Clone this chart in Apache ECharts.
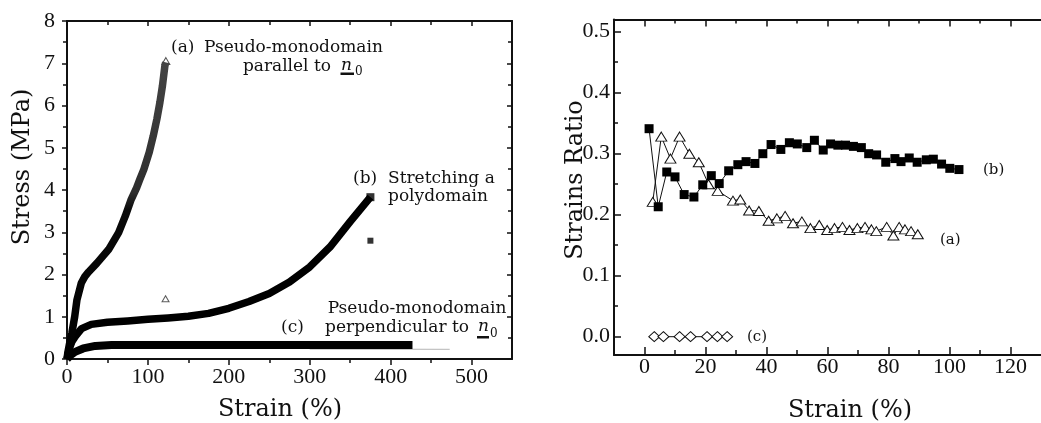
<!DOCTYPE html>
<html><head><meta charset="utf-8">
<script src="https://cdn.jsdelivr.net/npm/echarts@6/dist/echarts.min.js"></script>
<style>html,body{margin:0;padding:0;background:#fff}#c{width:1041px;height:423px}</style>
</head><body><div id="c"></div>
<script>
// ---------- Left panel: stress vs strain ----------
const strainA = [0, 1, 3, 6, 9.5, 12.3, 17.7, 22, 26.7, 37, 51.4, 63.8, 72, 79.4, 86, 90, 95, 101.6, 106.6, 111.1, 114.8, 118, 121, 122];
const stressA = [0, 0.15, 0.35, 0.61, 1.0, 1.4, 1.8, 1.95, 2.06, 2.27, 2.59, 2.99, 3.38, 3.78, 4.05, 4.25, 4.49, 4.89, 5.28, 5.68, 6.07, 6.47, 6.94, 7.02];
const strainB = [0, 3, 6, 10, 18, 30, 50, 75, 100, 125, 150, 175, 200, 225, 250, 275, 300, 325, 350, 375];
const stressB = [0, 0.25, 0.41, 0.53, 0.72, 0.82, 0.87, 0.90, 0.94, 0.97, 1.01, 1.08, 1.20, 1.36, 1.55, 1.82, 2.18, 2.65, 3.25, 3.83];
const strainC = [0, 5, 10, 20, 35, 55, 100, 200, 300, 427];
const stressC = [0, 0.10, 0.17, 0.25, 0.31, 0.33, 0.33, 0.33, 0.33, 0.33];
const strainCfaint = [300, 473];
const stressCfaint = [0.235, 0.23];
const outlierTri = [[121.8, 1.425]];
const topTri = [[122.2, 7.05]];
const outlierSq = [[375, 2.80]];
const endSq = [[375, 3.83]];
const leftXTicks = [0, 100, 200, 300, 400, 500];
const leftXMinor = [50, 150, 250, 350, 450];
const leftYTicks = [0, 1, 2, 3, 4, 5, 6, 7, 8];
const leftYMinor = [0.5, 1.5, 2.5, 3.5, 4.5, 5.5, 6.5, 7.5];

// ---------- Right panel: strains ratio vs strain ----------
const strainRb = [1.5, 4.5, 7.3, 10.0, 13.0, 16.2, 19.1, 21.9, 24.5, 27.6, 30.6, 33.3, 36.2, 38.8, 41.5, 44.7, 47.5, 50.1, 53.2, 55.7, 58.6, 61.0, 63.4, 65.9, 68.5, 71.1, 73.5, 76.1, 79.1, 82.1, 84.1, 86.8, 89.4, 92.4, 94.7, 97.4, 100.1, 103.1];
const ratioRb = [0.341, 0.213, 0.270, 0.262, 0.233, 0.229, 0.249, 0.264, 0.251, 0.272, 0.282, 0.287, 0.284, 0.300, 0.315, 0.307, 0.318, 0.316, 0.310, 0.322, 0.306, 0.316, 0.314, 0.314, 0.312, 0.310, 0.300, 0.298, 0.286, 0.292, 0.287, 0.293, 0.286, 0.290, 0.291, 0.283, 0.276, 0.274];
const strainRa = [2.7, 5.5, 8.5, 11.5, 14.7, 17.8, 21.0, 24.0, 29.0, 31.4, 34.3, 37.5, 40.7, 43.4, 46.1, 48.7, 51.6, 54.4, 57.3, 59.9, 62.3, 64.9, 67.2, 69.8, 72.3, 74.4, 76.0, 79.4, 81.6, 83.5, 85.4, 87.4, 89.6];
const ratioRa = [0.221, 0.328, 0.292, 0.328, 0.300, 0.286, 0.250, 0.239, 0.223, 0.225, 0.207, 0.206, 0.190, 0.194, 0.198, 0.186, 0.189, 0.178, 0.183, 0.175, 0.178, 0.180, 0.175, 0.178, 0.180, 0.176, 0.173, 0.180, 0.166, 0.180, 0.176, 0.173, 0.168];
const strainRc = [3.2, 6.2, 11.5, 15.1, 20.5, 23.9, 27.1];
const ratioRc = [0, 0, 0, 0, 0, 0, 0];
const rightXTicks = [0, 20, 40, 60, 80, 100, 120];
const rightXMinor = [10, 30, 50, 70, 90, 110];
const rightYTicks = [0, 0.1, 0.2, 0.3, 0.4, 0.5];
const rightYMinor = [0.05, 0.15, 0.25, 0.35, 0.45];

const zip = (xs, ys) => xs.map((x, i) => [x, ys[i]]);
const INK = '#111';
const NUMF = 'Liberation Serif';
const TXTF = 'DejaVu Serif';

function axis(gi, pos, min, max, ticks, o) {
  o = o || {};
  return {
    type: 'value', gridIndex: gi, position: pos, min: min, max: max,
    axisLine: { show: !!o.line, onZero: false, lineStyle: { color: INK, width: 2 } },
    axisTick: { show: true, inside: !!o.inside, length: o.len || 6, customValues: ticks, lineStyle: { color: INK, width: 1.5 } },
    axisLabel: o.label ? { show: true, customValues: ticks, margin: o.margin, fontFamily: NUMF, fontSize: 22, color: INK, formatter: o.fmt } : { show: false },
    splitLine: { show: false }, minorTick: { show: false }
  };
}

const chart = echarts.init(document.getElementById('c'), null, { renderer: 'canvas' });
const lineA = new echarts.graphic.LinearGradient(0, 0, 0, 1, [
  { offset: 0, color: '#444' }, { offset: 0.44, color: '#2e2e2e' }, { offset: 0.5, color: '#0a0a0a' }, { offset: 1, color: '#000' }
]);

const txt = (x, y, s, o) => Object.assign({ type: 'text', x: x, y: y, silent: true,
  style: Object.assign({ text: s, fontFamily: TXTF, fontSize: 17, fill: INK, align: 'left', verticalAlign: 'middle' }, (o && o.style) || {}) },
  o && o.rotation ? { rotation: o.rotation } : {});

const thick = (w, c) => ({ color: c, width: w, cap: 'butt', join: 'round' });

chart.setOption({
  animation: false,
  backgroundColor: '#fff',
  grid: [
    { left: 67, top: 21, width: 445, height: 338 },
    { left: 614, top: 19.5, width: 437.5, height: 335.5 }
  ],
  xAxis: [
    axis(0, 'bottom', 0, 550, leftXTicks, { line: true, label: true, margin: 7.5, len: 6 }),
    axis(0, 'bottom', 0, 550, leftXMinor, { len: 4 }),
    axis(0, 'top', 0, 550, leftXTicks, { line: true, inside: true, len: 5 }),
    axis(0, 'top', 0, 550, leftXMinor, { inside: true, len: 4 }),
    axis(1, 'bottom', -10, 130, rightXTicks, { line: true, inside: true, label: true, margin: 1, len: 8 }),
    axis(1, 'bottom', -10, 130, rightXMinor, { inside: true, len: 5 }),
    axis(1, 'top', -10, 130, rightXTicks, { line: true, inside: true, len: 7 }),
    axis(1, 'top', -10, 130, rightXMinor, { inside: true, len: 4 })
  ],
  yAxis: [
    axis(0, 'left', 0, 8, leftYTicks, { line: true, label: true, margin: 12, len: 5 }),
    axis(0, 'left', 0, 8, leftYMinor, { len: 4 }),
    axis(0, 'right', 0, 8, leftYTicks, { line: true, inside: true, len: 5 }),
    axis(0, 'right', 0, 8, leftYMinor, { inside: true, len: 4 }),
    axis(1, 'left', -0.03, 0.52, rightYTicks, { line: true, inside: true, label: true, margin: 4, len: 7, fmt: v => v.toFixed(1) }),
    axis(1, 'left', -0.03, 0.52, rightYMinor, { inside: true, len: 4 })
  ],
  series: [
    { type: 'line', xAxisIndex: 0, yAxisIndex: 0, data: zip(strainCfaint, stressCfaint), symbol: 'none', lineStyle: { color: '#c4c4c4', width: 1.2 } },
    { type: 'line', xAxisIndex: 0, yAxisIndex: 0, data: zip(strainC, stressC), symbol: 'none', lineStyle: thick(8, '#000') },
    { type: 'line', xAxisIndex: 0, yAxisIndex: 0, data: zip(strainB, stressB), symbol: 'none', lineStyle: thick(7.5, '#000') },
    { type: 'line', xAxisIndex: 0, yAxisIndex: 0, data: zip(strainA, stressA), symbol: 'none', lineStyle: thick(7.5, lineA) },
    { type: 'scatter', xAxisIndex: 0, yAxisIndex: 0, data: endSq, symbol: 'rect', symbolSize: 8, itemStyle: { color: '#000' } },
    { type: 'scatter', xAxisIndex: 0, yAxisIndex: 0, data: outlierSq, symbol: 'rect', symbolSize: 6, itemStyle: { color: '#000' } },
    { type: 'scatter', xAxisIndex: 0, yAxisIndex: 0, data: topTri, symbol: 'triangle', symbolSize: [8, 7], itemStyle: { color: '#fff', borderColor: '#222', borderWidth: 1 } },
    { type: 'scatter', xAxisIndex: 0, yAxisIndex: 0, data: outlierTri, symbol: 'triangle', symbolSize: [7, 6], itemStyle: { color: '#fff', borderColor: '#333', borderWidth: 1 } },

    { type: 'line', xAxisIndex: 4, yAxisIndex: 4, data: zip(strainRc, ratioRc), symbol: 'diamond', symbolSize: [11, 10], showAllSymbol: true,
      lineStyle: { color: INK, width: 1 }, itemStyle: { color: '#fff', borderColor: INK, borderWidth: 1 } },
    { type: 'line', xAxisIndex: 4, yAxisIndex: 4, data: zip(strainRa, ratioRa), symbol: 'triangle', symbolSize: [11, 9], showAllSymbol: true,
      lineStyle: { color: INK, width: 1 }, itemStyle: { color: '#fff', borderColor: INK, borderWidth: 1 } },
    { type: 'line', xAxisIndex: 4, yAxisIndex: 4, data: zip(strainRb, ratioRb), symbol: 'rect', symbolSize: 9, showAllSymbol: true,
      lineStyle: { color: INK, width: 1 }, itemStyle: { color: '#000' } }
  ],
  graphic: [
    txt(280, 410, 'Strain (%)', { style: { fontSize: 24, align: 'center' } }),
    txt(23, 167, 'Stress (MPa)', { rotation: Math.PI / 2, style: { fontSize: 24, align: 'center' } }),
    txt(850, 411, 'Strain (%)', { style: { fontSize: 24, align: 'center' } }),
    txt(576, 180, 'Strains Ratio', { rotation: Math.PI / 2, style: { fontSize: 24, align: 'center' } }),

    txt(171, 47.5, '(a)'),
    txt(204, 47.5, 'Pseudo-monodomain'),
    txt(331, 66.5, 'parallel to', { style: { align: 'right' } }),
    txt(341, 65.5, 'n', { style: { fontStyle: 'italic' } }),
    txt(355, 72, '0', { style: { fontSize: 12 } }),
    { type: 'rect', silent: true, shape: { x: 340.5, y: 72.5, width: 13.5, height: 2.5 }, style: { fill: INK } },

    txt(353, 178.3, '(b)'),
    txt(388, 178.3, 'Stretching a'),
    txt(388, 196.7, 'polydomain'),

    txt(506.5, 309, 'Pseudo-monodomain', { style: { align: 'right' } }),
    txt(281, 327.7, '(c)'),
    txt(469, 327.7, 'perpendicular to', { style: { align: 'right' } }),
    txt(478, 327, 'n', { style: { fontStyle: 'italic' } }),
    txt(490, 334, '0', { style: { fontSize: 12 } }),
    { type: 'rect', silent: true, shape: { x: 477, y: 336, width: 12, height: 2.5 }, style: { fill: INK } },

    txt(983, 170, '(b)', { style: { fontSize: 15 } }),
    txt(940, 240, '(a)', { style: { fontSize: 15 } }),
    txt(747, 337.3, '(c)', { style: { fontSize: 15 } })
  ]
});
</script></body></html>
